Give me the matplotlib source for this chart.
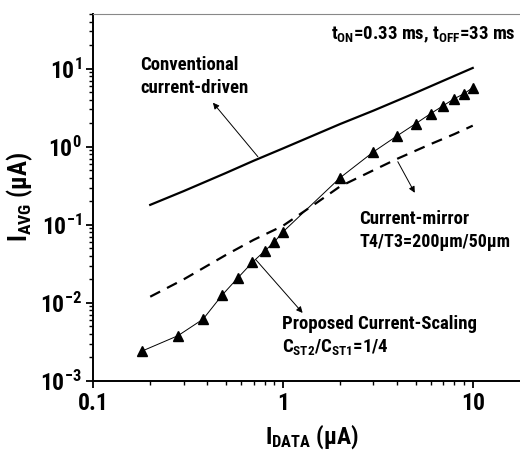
import matplotlib
matplotlib.use('Agg')
import numpy as np
import matplotlib.pyplot as plt
from matplotlib import font_manager
from matplotlib.ticker import LogLocator, FixedLocator, NullFormatter

# narrow bold sans: take the first one that really has a bold face
fam = 'Liberation Sans'
for cand in ['Roboto Condensed', 'PT Sans Narrow', 'Archivo Narrow', 'Open Sans Condensed']:
    ok = [f for f in font_manager.fontManager.ttflist
          if f.name == cand and f.style == 'normal' and int(f.weight) >= 700]
    if ok:
        fam = cand
        break

plt.rcParams['font.family'] = [fam, 'DejaVu Sans']
plt.rcParams['font.weight'] = 'bold'
plt.rcParams['mathtext.fontset'] = 'custom'
plt.rcParams['mathtext.rm'] = fam + ':bold'
plt.rcParams['mathtext.it'] = fam + ':bold'
plt.rcParams['mathtext.bf'] = fam + ':bold'

# conventional current-driven (solid)
conv_x = [0.2, 0.3, 0.5, 0.7, 1, 2, 3, 5, 7, 10]
conv_y = [0.18, 0.27, 0.46, 0.66, 0.95, 1.95, 2.9, 4.9, 7.0, 10.2]

# current-mirror (dashed)
mirr_x = [0.2, 0.3, 0.5, 0.7, 1, 1.5, 2, 3, 4, 6, 8, 10]
mirr_y = [0.012, 0.02, 0.041, 0.064, 0.097, 0.19, 0.31, 0.50, 0.70, 1.08, 1.45, 1.86]

# proposed current-scaling (triangles)
prop_x = [0.18, 0.28, 0.38, 0.48, 0.58, 0.69, 0.8, 0.9, 1.0, 2, 3, 4, 5, 6, 7, 8, 9, 10]
prop_y = [0.0024, 0.0038, 0.0062, 0.0127, 0.021, 0.033, 0.046, 0.06, 0.081,
          0.40, 0.86, 1.38, 1.97, 2.65, 3.36, 4.12, 4.78, 5.7]

yticks = [1e-3, 1e-2, 1e-1, 1, 10]
ylabels = [r'$10^{-3}$', r'$10^{-2}$', r'$10^{-1}$', r'$10^{0}$', r'$10^{1}$']
xticks = [0.1, 1, 10]
xlabels = ['0.1', '1', '10']

fig = plt.figure(figsize=(5.2, 4.53), dpi=100)
ax = fig.add_axes([0.179, 0.159, 0.840, 0.810])

ax.plot(conv_x, conv_y, color='k', lw=1.6)
ax.plot(mirr_x, mirr_y, color='k', lw=1.6, ls=(0, (5, 3.5)))
ax.plot(prop_x, prop_y, color='k', lw=0.7, marker='^', ms=6.5)

ax.set_xscale('log')
ax.set_yscale('log')
ax.set_xlim(0.1, 20)
ax.set_ylim(1e-3, 50)

ax.xaxis.set_major_locator(FixedLocator(xticks))
ax.set_xticklabels(xlabels)
ax.yaxis.set_major_locator(FixedLocator(yticks))
ax.set_yticklabels(ylabels)
ax.xaxis.set_minor_locator(LogLocator(base=10, subs=np.arange(2, 10)))
ax.yaxis.set_minor_locator(LogLocator(base=10, subs=np.arange(2, 10), numticks=20))
ax.xaxis.set_minor_formatter(NullFormatter())
ax.yaxis.set_minor_formatter(NullFormatter())
ax.tick_params(which='major', direction='out', length=5, width=1.3, labelsize=17, pad=3)
ax.tick_params(which='minor', direction='out', length=3, width=1)
for lab in ax.get_xticklabels() + ax.get_yticklabels():
    lab.set_fontweight('bold')

ax.spines['left'].set_linewidth(1.4)
ax.spines['bottom'].set_linewidth(1.4)
ax.spines['top'].set_color('#888888')
ax.spines['top'].set_linewidth(0.8)

ax.set_xlabel(r'$\mathregular{I_{DATA}}$ (μA)', fontsize=17, fontweight='bold', labelpad=5)
ax.set_ylabel(r'$\mathregular{I_{AVG}}$ (μA)', fontsize=18, fontweight='bold', labelpad=4)

fs = 13.5
ax.text(1.79, 23.6, r'$\mathregular{t_{ON}}$=0.33 ms, $\mathregular{t_{OFF}}$=33 ms', fontsize=fs, fontweight='bold', va='baseline')
ax.text(0.177, 9.7, 'Conventional', fontsize=fs, fontweight='bold', va='baseline')
ax.text(0.177, 4.9, 'current-driven', fontsize=fs, fontweight='bold', va='baseline')
ax.text(2.51, 0.103, 'Current-mirror', fontsize=fs, fontweight='bold', va='baseline')
ax.text(2.53, 0.0522, 'T4/T3=200μm/50μm', fontsize=13, fontweight='bold', va='baseline')
ax.text(0.988, 0.00464, 'Proposed Current-Scaling', fontsize=fs, fontweight='bold', va='baseline')
ax.text(0.988, 0.00235, r'$\mathregular{C_{ST2}/C_{ST1}}$=1/4', fontsize=fs, fontweight='bold', va='baseline')

arrow = dict(arrowstyle='-|>', color='k', lw=0.7, mutation_scale=9, shrinkA=0, shrinkB=0)
ax.annotate('', xy=(0.428, 3.66), xytext=(0.738, 0.745), arrowprops=arrow)
ax.annotate('', xy=(4.95, 0.257), xytext=(4.03, 0.643), arrowprops=arrow)
ax.annotate('', xy=(1.27, 0.00744), xytext=(0.721, 0.0356), arrowprops=arrow)

fig.savefig('out.png', dpi=100)
